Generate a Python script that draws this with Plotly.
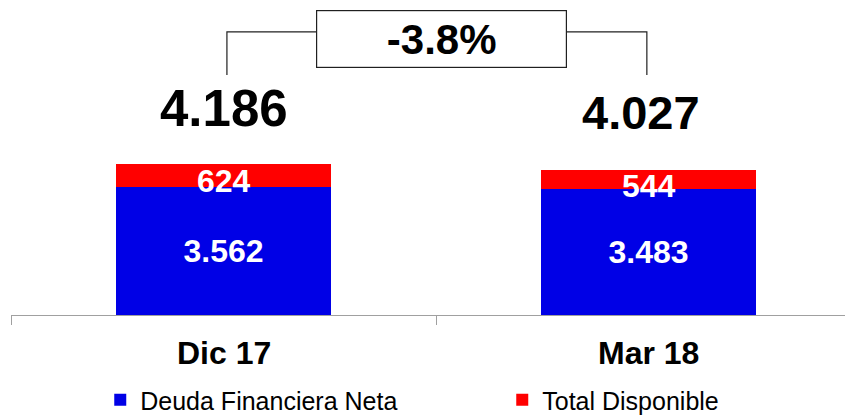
import plotly.graph_objects as go

periodos = ["Dic 17", "Mar 18"]
deuda_neta = [3562, 3483]
disponible = [624, 544]
totales = [4186, 4027]
variacion = "-3.8%"

FONT = "Arial, Liberation Sans, sans-serif"
AZUL = "#0000E6"
ROJO = "#FF0000"


def fmt(v):
    return f"{v:,}".replace(",", ".")


fig = go.Figure()
fig.add_trace(go.Bar(
    x=periodos, y=deuda_neta, name="Deuda Financiera Neta",
    marker=dict(color=AZUL, line=dict(width=0)), width=0.505,
    text=[fmt(v) for v in deuda_neta], textposition="inside",
    insidetextanchor="middle",
    textfont=dict(family=FONT, size=32, color="white", weight="bold"),
))
fig.add_trace(go.Bar(
    x=periodos, y=disponible, name="Total Disponible",
    marker=dict(color=ROJO, line=dict(width=0)), width=0.505,
))

# etiquetas del tramo rojo (sobresalen del segmento)
for p, d, r in zip(periodos, deuda_neta, disponible):
    fig.add_annotation(x=p, y=d + r / 2, text=fmt(r), showarrow=False,
                       xanchor="center", yanchor="middle", yshift=-6,
                       font=dict(family=FONT, size=32, color="white", weight="bold"))

# totales arriba
tot_sizes = [51, 47]
tot_y = [0.674, 0.661]
tot_dx = [0, -8]
for p, t, s, yy, dx in zip(periodos, totales, tot_sizes, tot_y, tot_dx):
    fig.add_annotation(x=p, y=yy, yref="paper", text=fmt(t), showarrow=False,
                       xanchor="center", yanchor="middle", xshift=dx,
                       font=dict(family=FONT, size=s, color="black", weight="bold"))

# etiquetas de categoria
for p in periodos:
    fig.add_annotation(x=p, y=-0.124, yref="paper", text=p, showarrow=False,
                       xanchor="center", yanchor="middle",
                       font=dict(family=FONT, size=32, color="black", weight="bold"))

# corchete de variacion
fig.add_shape(type="path", xref="x", yref="paper",
              path="M 0.008,0.782 L 0.008,0.922 L 0.996,0.922 L 0.996,0.782",
              line=dict(color="#202020", width=1.2))
fig.add_annotation(x=0.5, y=0.899, yref="paper", text=variacion, showarrow=False,
                   xanchor="center", yanchor="middle",
                   bgcolor="white", bordercolor="#202020", borderwidth=1.2,
                   width=247, height=54, xshift=5,
                   font=dict(family=FONT, size=42, color="black", weight="bold"))

fig.update_layout(
    barmode="stack",
    width=845, height=409,
    margin=dict(l=3, r=0, t=0, b=102, autoexpand=False),
    plot_bgcolor="white", paper_bgcolor="white",
    showlegend=True,
    legend=dict(orientation="h", x=0.106, xanchor="left", y=-0.277, yanchor="middle",
                traceorder="normal",
                font=dict(family=FONT, size=25, color="black"),
                entrywidth=357, entrywidthmode="pixels", itemclick=False),
    xaxis=dict(range=[-0.5, 1.481], showline=True, linecolor="#A0A0A0", linewidth=1,
               ticks="outside", ticklen=9, tickcolor="#A0A0A0", tickson="boundaries",
               showticklabels=False, showgrid=False, zeroline=False, fixedrange=True),
    yaxis=dict(range=[0, 8511], visible=False, showgrid=False, zeroline=False),
)

fig.write_html("out.html")
